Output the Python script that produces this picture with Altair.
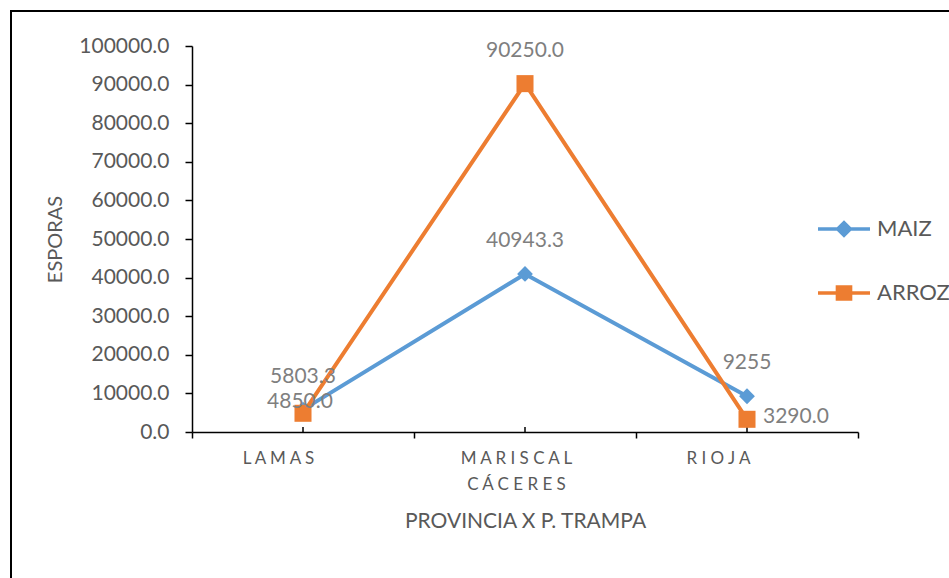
import altair as alt
import pandas as pd

# Source values
categories = ["LAMAS", "MARISCAL CÁCERES", "RIOJA"]
series_names = ["MAIZ", "ARROZ"]
maiz = [5803.3, 40943.3, 9255]
arroz = [4850.0, 90250.0, 3290.0]
y_ticks = [0, 10000, 20000, 30000, 40000, 50000, 60000, 70000, 80000, 90000, 100000]

colors = ["#5B9BD5", "#ED7D31"]
FONT = "Lato"
DARK = "#595959"
LABEL_GRAY = "#7F7F7F"


def fmt(v):
    return str(v) if isinstance(v, int) else f"{v:.1f}"


rows = []
for name, vals in zip(series_names, [maiz, arroz]):
    for cat, v in zip(categories, vals):
        rows.append({"series": name, "category": cat, "value": v, "label": fmt(v)})
df = pd.DataFrame(rows)
cat_df = pd.DataFrame({"category": categories})

W, H = 666, 386

# letter-spaced, word-wrapped category labels
label_expr = (
    "split(replace(datum.label, regexp('(\\\\S)(?=\\\\S)', 'g'), '$1\u00a0'), ' ')"
)

# category labels sit a little left of their band centre
label_shift = {
    "condition": [
        {"test": "datum.value == 'LAMAS'", "value": -25},
        {"test": "datum.value == 'RIOJA'", "value": -29},
    ],
    "value": -9,
}

x_enc = alt.X(
    "category:N",
    sort=categories,
    bandPosition=0.5,
    scale=alt.Scale(type="band", domain=categories, paddingInner=0, paddingOuter=0),
    axis=alt.Axis(
        title="PROVINCIA X P. TRAMPA",
        tickBand="extent",
        labelAngle=0,
        labelExpr=label_expr,
        labelOffset=label_shift,
        labelFont=FONT,
        labelFontSize=17,
        labelColor=DARK,
        labelPadding=12,
        labelLineHeight=26,
        labelBaseline="top",
        domainColor="black",
        domainWidth=1.5,
        tickColor="black",
        tickWidth=1.5,
        tickSize=6,
        titleFont=FONT,
        titleFontSize=21,
        titleFontWeight="normal",
        titleColor=DARK,
        titleY=89,
        titleBaseline="middle",
    ),
)

y_enc = alt.Y(
    "value:Q",
    scale=alt.Scale(domain=[0, 100000], nice=False),
    axis=alt.Axis(
        title="ESPORAS",
        values=y_ticks,
        format=".1f",
        grid=False,
        labelFont=FONT,
        labelFontSize=21,
        labelColor=DARK,
        labelPadding=16,
        domainColor="black",
        domainWidth=1.5,
        tickColor="black",
        tickWidth=1.5,
        tickSize=7,
        titleFont=FONT,
        titleFontSize=20,
        titleFontWeight="normal",
        titleColor=DARK,
        titleX=-137,
        titleY=H / 2,
        titleBaseline="middle",
    ),
)

# legend glyphs: a horizontal stroke with the series marker on top
line_part = "M-1,-0.07H1V0.07H-1Z"
diamond_glyph = line_part + "M0,-0.34L0.34,0L0,0.34L-0.34,0Z"
square_glyph = line_part + "M-0.32,-0.3H0.32V0.3H-0.32Z"

legend_style = dict(
    title=None,
    orient="none",
    legendX=626,
    legendY=157,
    symbolSize=2704,
    symbolStrokeWidth=0,
    symbolOpacity=1,
    rowPadding=27,
    labelOffset=7,
    labelFont=FONT,
    labelFontSize=22,
    labelColor=DARK,
)

base = alt.Chart(df)


def series_line(name, col):
    return base.transform_filter(f"datum.series == '{name}'").mark_line(
        strokeWidth=4, color=col
    ).encode(x=x_enc, y=y_enc)


maiz_line = series_line("MAIZ", colors[0])
arroz_line = series_line("ARROZ", colors[1])

maiz_pts = base.transform_filter("datum.series == 'MAIZ'").mark_point(
    shape="diamond", filled=True, size=250, opacity=1, color=colors[0]
).encode(x=x_enc, y=y_enc)

arroz_pts = base.transform_filter("datum.series == 'ARROZ'").mark_point(
    shape="square", filled=True, size=290, opacity=1, color=colors[1]
).encode(x=x_enc, y=y_enc)

# legend only: no marks drawn, symbols come from the colour and shape scales
legend_layer = base.transform_filter("false").mark_point(
    filled=True, opacity=1
).encode(
    x=x_enc,
    y=y_enc,
    color=alt.Color(
        "series:N",
        scale=alt.Scale(domain=series_names, range=colors),
        legend=alt.Legend(**legend_style),
    ),
    shape=alt.Shape(
        "series:N",
        scale=alt.Scale(domain=series_names, range=[diamond_glyph, square_glyph]),
        legend=alt.Legend(**legend_style),
    ),
)

text_style = dict(font=FONT, fontSize=21, color=LABEL_GRAY)

labels_above = base.transform_filter(
    "datum.series == 'MAIZ' || datum.category == 'MARISCAL CÁCERES'"
).mark_text(dy=-33, **text_style).encode(x=x_enc, y=y_enc, text="label:N")

label_lamas = base.transform_filter(
    "datum.series == 'ARROZ' && datum.category == 'LAMAS'"
).mark_text(dy=-11, dx=-3, **text_style).encode(x=x_enc, y=y_enc, text="label:N")

label_rioja = base.transform_filter(
    "datum.series == 'ARROZ' && datum.category == 'RIOJA'"
).mark_text(dx=16, dy=-2, align="left", **text_style).encode(
    x=x_enc, y=y_enc, text="label:N"
)

# short inward ticks at each category centre
center_ticks = alt.Chart(cat_df).mark_rule(color="black", strokeWidth=1.5).encode(
    x=x_enc, y=alt.value(H), y2=alt.value(H - 5)
)

# outer chart frame
frame = alt.Chart(pd.DataFrame({"k": [0]})).mark_rect(
    fillOpacity=0, stroke="black", strokeWidth=2
).encode(
    x=alt.value(-181), x2=alt.value(W + 120), y=alt.value(-35), y2=alt.value(H + 200)
)

chart = (
    alt.layer(
        frame,
        center_ticks,
        maiz_line,
        arroz_line,
        maiz_pts,
        arroz_pts,
        legend_layer,
        labels_above,
        label_lamas,
        label_rioja,
    )
    .properties(
        width=W,
        height=H,
        padding={"left": 192, "top": 46, "right": 91, "bottom": 146},
        autosize=alt.AutoSizeParams(type="none"),
        background="white",
    )
    .configure_view(stroke=None)
)

chart.save("out.html", embed_options={"renderer": "svg", "actions": False})
